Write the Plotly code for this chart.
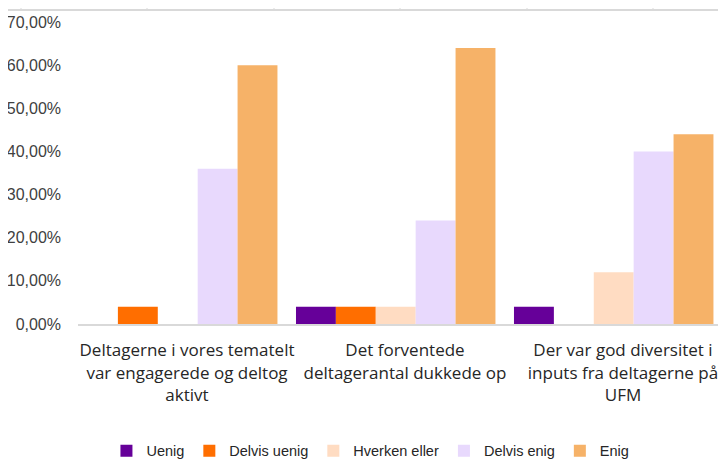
import plotly.graph_objects as go

categories = [
    "Deltagerne i vores tematelt<br>var engagerede og deltog<br>aktivt",
    "Det forventede<br>deltagerantal dukkede op",
    "Der var god diversitet i<br>inputs fra deltagerne på<br>UFM",
]
series_names = ["Uenig", "Delvis uenig", "Hverken eller", "Delvis enig", "Enig"]
uenig = [0.00, 0.04, 0.04]
delvis_uenig = [0.04, 0.04, 0.00]
hverken_eller = [0.00, 0.04, 0.12]
delvis_enig = [0.36, 0.24, 0.40]
enig = [0.60, 0.64, 0.44]
colors = ["#660099", "#FF6E00", "#FFDCC2", "#E8D9FD", "#F6B268"]
y_ticks = [0, 0.1, 0.2, 0.3, 0.4, 0.5, 0.6, 0.7]

BAR_W = 0.183  # bar width in category units; bars start at the left edge of each category

fig = go.Figure()
for i, (name, vals, col) in enumerate(zip(series_names,
                                          [uenig, delvis_uenig, hverken_eller, delvis_enig, enig],
                                          colors)):
    fig.add_trace(go.Bar(name=name, x=categories, y=vals, width=BAR_W, offset=-0.5 + i * BAR_W,
                         marker=dict(color=col, line=dict(width=0))))

# page body has an 8px margin; figure coordinates below are relative to it
L, R, T, B, W, H = 70, 1, 14, 149, 718, 465
PW = W - L - R

# decorative remnant line at top (cropped axis of a chart above)
shapes = [dict(type="line", xref="paper", yref="paper", x0=(-3 - L) / PW, x1=1.02, y0=1.04, y1=1.04,
               line=dict(color="#d9d9d9", width=2))]
for tx in [13, 139, 266, 392, 519, 645]:
    px = (tx - L) / PW
    shapes.append(dict(type="line", xref="paper", yref="paper", x0=px, x1=px, y0=1.04, y1=1.05,
                       line=dict(color="#d9d9d9", width=1)))

fig.update_layout(
    width=W, height=H,
    margin=dict(l=L, r=R, t=T, b=B),
    paper_bgcolor="white", plot_bgcolor="white",
    barmode="group",
    separators=",.",
    font=dict(family="Liberation Sans, Arial, sans-serif", size=16, color="#404040"),
    showlegend=True,
    legend=dict(orientation="h", x=0.452, xanchor="center", y=-0.42, yanchor="middle",
                font=dict(family="Liberation Sans, Arial, sans-serif", size=14.5, color="#262626"),
                itemwidth=30, traceorder="normal"),
    shapes=shapes,
)
fig.update_yaxes(range=[0, 0.7], tickvals=y_ticks, tickformat=".2%", showgrid=False,
                 zeroline=False, showline=False, ticks="", automargin=False,
                 ticklabelstandoff=16,
                 tickfont=dict(family="Liberation Sans, Arial, sans-serif", size=16, color="#404040"))
fig.update_xaxes(range=[-0.5, 2.468], showline=True, linecolor="#d9d9d9", linewidth=2, ticks="",
                 automargin=False, ticklabelstandoff=10,
                 tickfont=dict(family="Open Sans, sans-serif", size=17, color="#262626"))

fig.write_html("out.html")
